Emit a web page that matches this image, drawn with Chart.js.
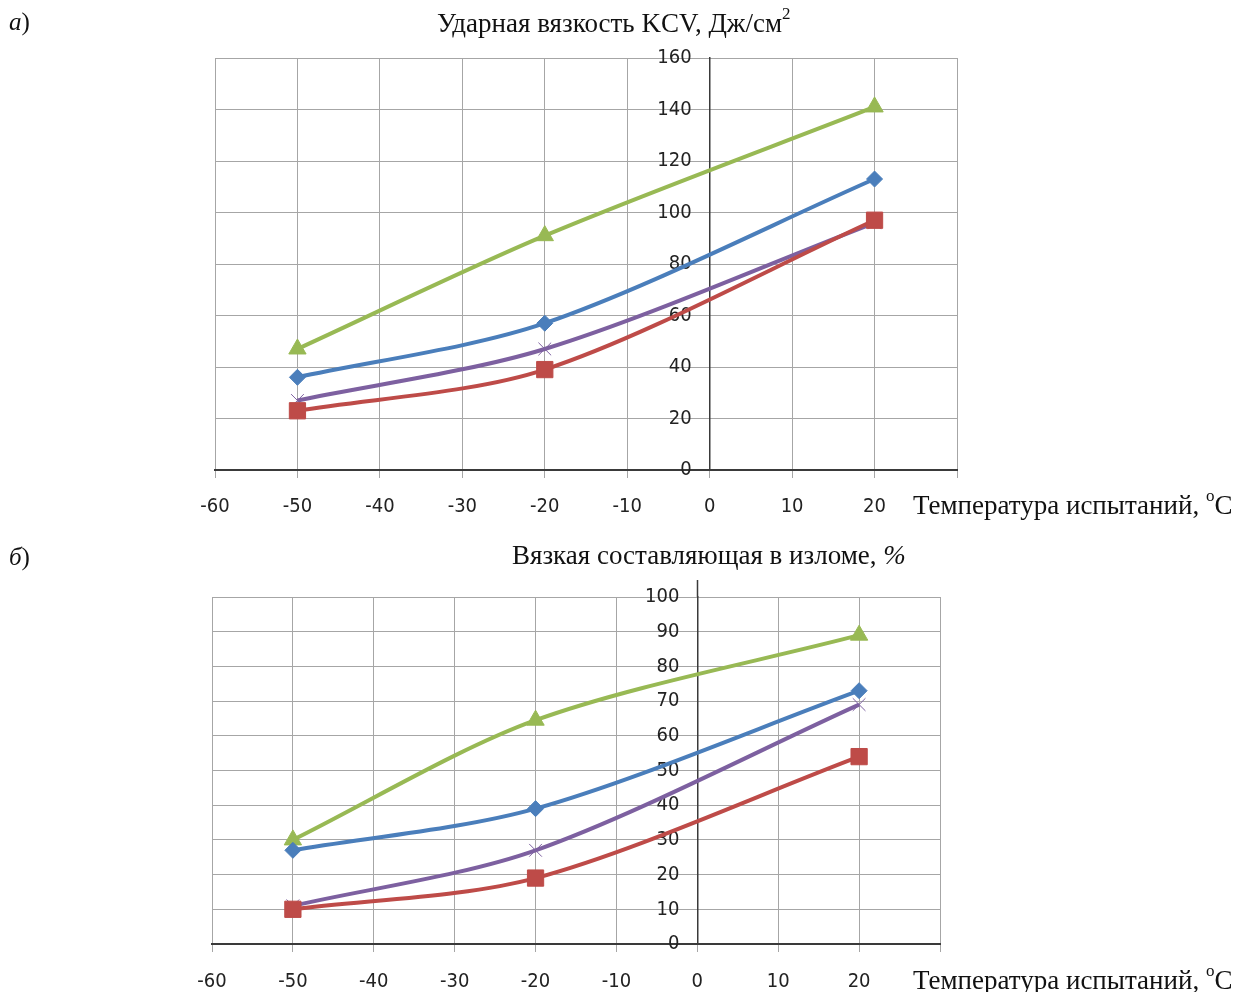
<!DOCTYPE html>
<html>
<head>
<meta charset="utf-8">
<script src="https://cdn.jsdelivr.net/npm/chart.js@4/dist/chart.umd.min.js"></script>
<style>
  html,body{margin:0;padding:0;background:#fff;}
  body{width:1240px;height:992px;position:relative;overflow:hidden;font-family:'Liberation Serif','Times New Roman',serif;color:#111;}
  .wrap{position:absolute;left:0;width:1240px;}
  .txt{position:absolute;white-space:nowrap;font-size:27px;line-height:1;}
  .txt sup{font-size:17px;position:relative;top:-3px;}
  .it{font-style:italic;}
</style>
</head>
<body>
<div class="wrap" style="top:0;height:530px;"><canvas id="chartA"></canvas></div>
<div class="wrap" style="top:530px;height:462px;"><canvas id="chartB"></canvas></div>

<div class="txt" style="left:9px;top:9px;font-size:25px;"><span class="it">а</span>)</div>
<div class="txt" style="left:437px;top:8px;">Ударная вязкость KCV, Дж/см<sup>2</sup></div>
<div class="txt" style="left:913px;top:490px;">Температура испытаний, <sup>o</sup>С</div>

<div class="txt" style="left:9px;top:544px;font-size:25px;"><span class="it">б</span>)</div>
<div class="txt" style="left:512px;top:542px;">Вязкая составляющая в изломе, <span class="it">%</span></div>
<div class="txt" style="left:913px;top:965px;">Температура испытаний, <sup>o</sup>С</div>

<script>
// ---- данные ----
const temps = [-50, -20, 20];
const xTickLabels = ['-60','-50','-40','-30','-20','-10','0','10','20',''];

// (а) ударная вязкость KCV, Дж/см2
const kcvBlue   = [36, 57, 113];
const kcvRed    = [23, 39, 97];
const kcvGreen  = [47, 91, 141];
const kcvPurple = [27, 47, 96];

// (б) вязкая составляющая в изломе, %
const fibBlue   = [27, 39, 73];
const fibRed    = [10, 19, 54];
const fibGreen  = [30, 64.5, 89];
const fibPurple = [11, 27, 69];

// ---- стиль ----
const COL = {blue:'#4a7ebb', red:'#be4b48', green:'#98b954', purple:'#7d60a0'};
const tickFont = {family:"'Liberation Sans Narrow','DejaVu Sans Condensed',sans-serif", size:20};
const GRID = '#a6a6a6';
const AXIS = '#3a3a3a';

function series(vals, color, style, radius, extra){
  return Object.assign({
    data: temps.map((t,i)=>({x:t, y:vals[i]})),
    borderColor: color, backgroundColor: color,
    borderWidth: 4, tension: 0.3,
    pointStyle: style, pointRadius: radius, pointHoverRadius: radius,
    pointBackgroundColor: color, pointBorderColor: color, pointBorderWidth: 1,
  }, extra||{});
}

// ось Y продлевается немного выше области графика (как в оригинале)
const axisExt = {
  id:'axisExt',
  afterDraw(chart, args, opts){
    if(!opts.len) return;
    const {ctx, chartArea, scales} = chart;
    const x = Math.round(scales.x.getPixelForValue(0)) + 0.5;
    ctx.save();
    ctx.strokeStyle = AXIS; ctx.lineWidth = 1.5;
    ctx.beginPath(); ctx.moveTo(x, chartArea.top - opts.len); ctx.lineTo(x, chartArea.top); ctx.stroke();
    ctx.restore();
  }
};

function makeChart(id, sets, yMax, yStep, pad, axisH, tickPad, ext){
  return new Chart(document.getElementById(id), {
    type:'line',
    data:{ datasets: [
      series(sets[0], COL.blue,   'rectRot',  8),
      series(sets[1], COL.red,    'rect',     11.5),
      series(sets[2], COL.green,  'triangle', 10),
      series(sets[3], COL.purple, 'crossRot', 9, {pointBorderWidth:1}),
    ]},
    options:{
      responsive:true, maintainAspectRatio:false, animation:false,
      layout:{padding:pad},
      plugins:{legend:{display:false}, tooltip:{enabled:false}, axisExt:{len:ext}},
      scales:{
        x:{
          type:'linear', min:-60, max:30,
          afterFit: s => { s.height = axisH; },
          border:{color:AXIS, width:2},
          grid:{color:GRID, lineWidth:1, tickLength:8, drawTicks:true},
          ticks:{stepSize:10, padding:tickPad, color:'#222', font:tickFont, maxRotation:0,
                 callback:(v,i)=>xTickLabels[i]}
        },
        y:{
          type:'linear', min:0, max:yMax, position:{x:0},
          border:{color:AXIS, width:1.5},
          grid:{color:GRID, lineWidth:1, drawTicks:false},
          // подписи стоят слева от оси с небольшим отступом
          ticks:{stepSize:yStep, color:'#222', font:tickFont,
                 callback:v => v + '\u2002\u2002'}
        }
      }
    },
    plugins:[axisExt]
  });
}

makeChart('chartA', [kcvBlue, kcvRed, kcvGreen, kcvPurple], 160, 20,
  {left:215, right:283, top:58, bottom:0}, 60, 17, 0);
makeChart('chartB', [fibBlue, fibRed, fibGreen, fibPurple], 100, 10,
  {left:212, right:300, top:67, bottom:0}, 48, 18, 17);
</script>
</body>
</html>
